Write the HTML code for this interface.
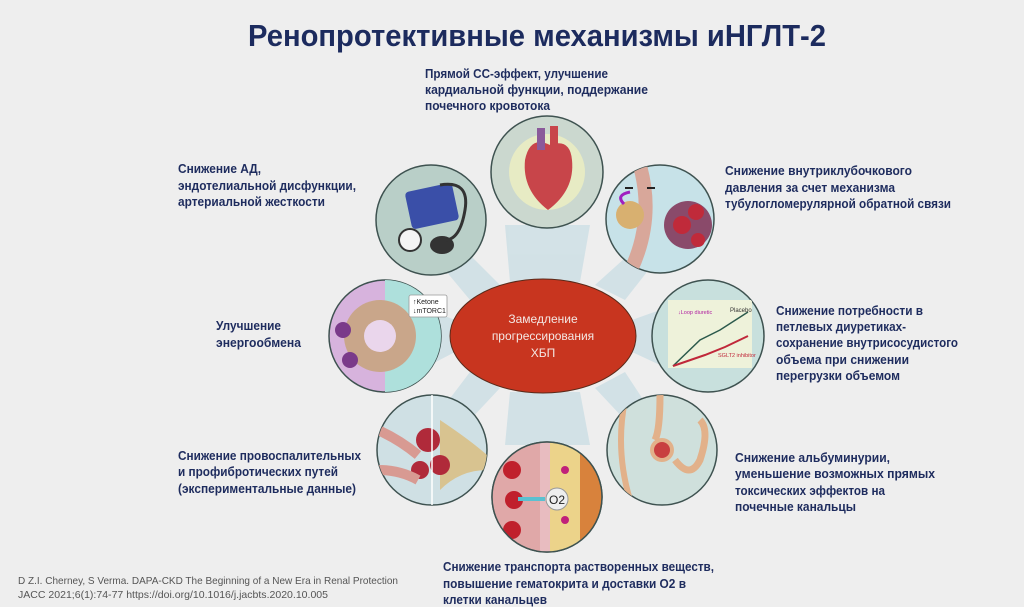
<!DOCTYPE html>
<html><head><meta charset="utf-8"><style>
html,body{margin:0;padding:0;background:#eeeeee;}
svg{display:block}
.t{font-family:"Liberation Sans",sans-serif;font-weight:bold;font-size:12.5px;fill:#1e2c5e}
</style></head><body>
<svg width="1024" height="607" viewBox="0 0 1024 607" xmlns="http://www.w3.org/2000/svg">
<defs>
<clipPath id="c1"><circle cx="547" cy="172" r="56"/></clipPath>
<clipPath id="c2"><circle cx="431" cy="220" r="55"/></clipPath>
<clipPath id="c3"><circle cx="660" cy="219" r="54"/></clipPath>
<clipPath id="c4"><circle cx="385" cy="336" r="56"/></clipPath>
<clipPath id="c5"><circle cx="708" cy="336" r="56"/></clipPath>
<clipPath id="c6"><circle cx="432" cy="450" r="55"/></clipPath>
<clipPath id="c7"><circle cx="547" cy="497" r="55"/></clipPath>
<clipPath id="c8"><circle cx="662" cy="450" r="55"/></clipPath>
</defs>
<rect width="1024" height="607" fill="#eeeeee"/>
<text x="537" y="46" text-anchor="middle" font-family="Liberation Sans, sans-serif" font-weight="bold" font-size="31" fill="#1c2b5e" textLength="578" lengthAdjust="spacingAndGlyphs">Ренопротективные механизмы  иНГЛТ-2</text>
<!-- rays -->
<g fill="#c9dde4" opacity="0.75">
<polygon points="510,282 580,282 590,225 505,225"/>
<polygon points="470,300 500,285 470,255 445,270"/>
<polygon points="595,285 625,300 650,268 625,258"/>
<polygon points="455,320 455,352 430,365 430,310"/>
<polygon points="632,320 632,352 660,365 660,310"/>
<polygon points="470,372 500,388 470,420 445,405"/>
<polygon points="595,388 625,372 650,410 625,420"/>
<polygon points="510,392 580,392 590,445 505,445"/>
</g>
<g stroke="#3e5250" stroke-width="1.5">
<circle cx="547" cy="172" r="56" fill="#cbd8cf"/>
<circle cx="431" cy="220" r="55" fill="#b9cfc8"/>
<circle cx="660" cy="219" r="54" fill="#c7e2e8"/>
<circle cx="385" cy="336" r="56" fill="#d7b3dd"/>
<circle cx="708" cy="336" r="56" fill="#c8e0dd"/>
<circle cx="432" cy="450" r="55" fill="#cfe0e4"/>
<circle cx="547" cy="497" r="55" fill="#e8c9b8"/>
<circle cx="662" cy="450" r="55" fill="#cfe0dc"/>
</g>
<g clip-path="url(#c1)">
<circle cx="547" cy="172" r="38" fill="#eef0c0" opacity="0.8"/>
<path d="M525,160 Q530,135 550,145 Q570,138 572,160 Q575,190 548,210 Q522,190 525,160Z" fill="#c8454a"/>
<rect x="537" y="128" width="8" height="22" fill="#8a5a9a"/><rect x="550" y="126" width="8" height="22" fill="#c8454a"/>
</g>
<g clip-path="url(#c2)">
<rect x="408" y="187" width="48" height="38" rx="4" fill="#3a4fa8" transform="rotate(-12 432 206)"/>
<circle cx="410" cy="240" r="11" fill="#f4f4f4" stroke="#333" stroke-width="2"/>
<ellipse cx="442" cy="245" rx="12" ry="9" fill="#333"/>
<path d="M440,185 Q470,180 465,210 Q460,240 445,240" fill="none" stroke="#333" stroke-width="3"/>
</g>
<g clip-path="url(#c3)">
<path d="M640,166 Q655,220 630,272" stroke="#d8a79a" stroke-width="14" fill="none"/>
<circle cx="688" cy="225" r="24" fill="#8a4a6a"/><circle cx="682" cy="225" r="9" fill="#c02a3a"/><circle cx="696" cy="212" r="8" fill="#c02a3a"/><circle cx="698" cy="240" r="7" fill="#c02a3a"/>
<circle cx="630" cy="215" r="14" fill="#d8b070"/>
<path d="M624,204 Q615,195 630,192" stroke="#a020c0" stroke-width="3" fill="none"/>
<path d="M625,188 h8 M655,188 h-8" stroke="#222" stroke-width="2"/>
</g>
<g clip-path="url(#c4)">
<rect x="385" y="280" width="60" height="112" fill="#aee0dc"/>
<circle cx="380" cy="336" r="36" fill="#c9a68a"/><circle cx="380" cy="336" r="16" fill="#ead6ec"/>
<circle cx="343" cy="330" r="8" fill="#7a3a8a"/><circle cx="350" cy="360" r="8" fill="#7a3a8a"/>
</g>
<rect x="409" y="295" width="38" height="22" rx="2" fill="#fff" stroke="#999" stroke-width="0.8"/>
<text x="413" y="304" font-family="Liberation Sans, sans-serif" font-size="7" fill="#222">↑Ketone</text>
<text x="413" y="313" font-family="Liberation Sans, sans-serif" font-size="7" fill="#222">↓mTORC1</text>
<g clip-path="url(#c5)">
<rect x="668" y="300" width="84" height="68" fill="#eef2da"/>
<polyline points="673,366 700,340 720,330 748,312" stroke="#2c5a4c" stroke-width="1.5" fill="none"/>
<polyline points="673,366 705,355 725,347 748,336" stroke="#c0283a" stroke-width="2" fill="none"/>
<text x="730" y="312" font-family="Liberation Sans, sans-serif" font-size="6" fill="#333">Placebo</text>
<text x="718" y="357" font-family="Liberation Sans, sans-serif" font-size="5.5" fill="#c0283a">SGLT2 inhibitor</text>
<text x="678" y="314" font-family="Liberation Sans, sans-serif" font-size="5.5" fill="#b020a0">↓Loop diuretic</text>
</g>
<g clip-path="url(#c6)">
<path d="M440,420 Q470,440 487,455 L487,470 Q460,470 440,490 Z" fill="#d8c390"/>
<circle cx="428" cy="440" r="12" fill="#b02a3a"/><circle cx="440" cy="465" r="10" fill="#b02a3a"/><circle cx="420" cy="470" r="9" fill="#b02a3a"/>
<path d="M378,430 Q400,440 418,455" stroke="#d89a92" stroke-width="10" fill="none"/>
<path d="M378,470 Q400,470 418,480" stroke="#d89a92" stroke-width="10" fill="none"/>
<line x1="432" y1="395" x2="432" y2="505" stroke="#fff" stroke-width="1.5"/>
</g>
<g clip-path="url(#c7)">
<rect x="490" y="442" width="50" height="111" fill="#e0a8a8"/>
<rect x="540" y="442" width="10" height="111" fill="#e8bcc0"/>
<rect x="550" y="442" width="30" height="111" fill="#ecd38a"/>
<rect x="580" y="442" width="25" height="111" fill="#d8823c"/>
<circle cx="512" cy="470" r="9" fill="#c0202c"/><circle cx="514" cy="500" r="9" fill="#c0202c"/><circle cx="512" cy="530" r="9" fill="#c0202c"/>
<circle cx="565" cy="470" r="4" fill="#c0207a"/><circle cx="565" cy="520" r="4" fill="#c0207a"/>
<line x1="518" y1="499" x2="545" y2="499" stroke="#5bc0d0" stroke-width="4"/>
<circle cx="557" cy="499" r="11" fill="#eeeeee" stroke="#999"/>
<text x="557" y="504" text-anchor="middle" font-family="Liberation Sans, sans-serif" font-size="12" fill="#222">O2</text>
</g>
<circle cx="547" cy="497" r="55" fill="none" stroke="#3e5250" stroke-width="1.5"/>
<g clip-path="url(#c8)">
<path d="M625,400 Q615,450 630,500" stroke="#e2b18a" stroke-width="6" fill="none"/>
<path d="M660,395 Q660,430 655,440 M675,460 Q690,480 700,460 Q710,430 700,420" stroke="#e2b18a" stroke-width="7" fill="none"/>
<circle cx="662" cy="450" r="12" fill="#e2b18a"/><circle cx="662" cy="450" r="8" fill="#c84040"/>
</g>
<ellipse cx="543" cy="336" rx="93" ry="57" fill="#c8351f" stroke="#5a2a1a" stroke-width="1"/>
<g font-family="Liberation Sans, sans-serif" font-size="12" fill="#f4e8e4" text-anchor="middle">
<text x="543" y="323">Замедление</text>
<text x="543" y="340">прогрессирования</text>
<text x="543" y="357">ХБП</text>
</g>
<g class="t" lengthAdjust="spacingAndGlyphs">
<text class="t" x="425" y="78" textLength="183" lengthAdjust="spacingAndGlyphs">Прямой СС-эффект, улучшение</text>
<text class="t" x="425" y="94" textLength="223" lengthAdjust="spacingAndGlyphs">кардиальной функции, поддержание</text>
<text class="t" x="425" y="110" textLength="125" lengthAdjust="spacingAndGlyphs">почечного кровотока</text>
<text class="t" x="178" y="173" textLength="83" lengthAdjust="spacingAndGlyphs">Снижение АД,</text>
<text class="t" x="178" y="190" textLength="178" lengthAdjust="spacingAndGlyphs">эндотелиальной дисфункции,</text>
<text class="t" x="178" y="206" textLength="147" lengthAdjust="spacingAndGlyphs">артериальной жесткости</text>
<text class="t" x="725" y="175" textLength="187" lengthAdjust="spacingAndGlyphs">Снижение внутриклубочкового</text>
<text class="t" x="725" y="192" textLength="170" lengthAdjust="spacingAndGlyphs">давления за счет механизма</text>
<text class="t" x="725" y="208" textLength="226" lengthAdjust="spacingAndGlyphs">тубулогломерулярной обратной связи</text>
<text class="t" x="216" y="330" textLength="65" lengthAdjust="spacingAndGlyphs">Улучшение</text>
<text class="t" x="216" y="347" textLength="85" lengthAdjust="spacingAndGlyphs">энергообмена</text>
<text class="t" x="776" y="315" textLength="147" lengthAdjust="spacingAndGlyphs">Снижение потребности в</text>
<text class="t" x="776" y="331" textLength="130" lengthAdjust="spacingAndGlyphs">петлевых диуретиках-</text>
<text class="t" x="776" y="347" textLength="182" lengthAdjust="spacingAndGlyphs">сохранение внутрисосудистого</text>
<text class="t" x="776" y="364" textLength="133" lengthAdjust="spacingAndGlyphs">объема при снижении</text>
<text class="t" x="776" y="380" textLength="124" lengthAdjust="spacingAndGlyphs">перегрузки объемом</text>
<text class="t" x="178" y="460" textLength="183" lengthAdjust="spacingAndGlyphs">Снижение провоспалительных</text>
<text class="t" x="178" y="476" textLength="160" lengthAdjust="spacingAndGlyphs">и профибротических путей</text>
<text class="t" x="178" y="493" textLength="178" lengthAdjust="spacingAndGlyphs">(экспериментальные данные)</text>
<text class="t" x="735" y="462" textLength="155" lengthAdjust="spacingAndGlyphs">Снижение альбуминурии,</text>
<text class="t" x="735" y="478" textLength="200" lengthAdjust="spacingAndGlyphs">уменьшение возможных прямых</text>
<text class="t" x="735" y="495" textLength="150" lengthAdjust="spacingAndGlyphs">токсических эффектов на</text>
<text class="t" x="735" y="511" textLength="121" lengthAdjust="spacingAndGlyphs">почечные канальцы</text>
<text class="t" x="443" y="571" textLength="271" lengthAdjust="spacingAndGlyphs">Снижение транспорта растворенных веществ,</text>
<text class="t" x="443" y="588" textLength="243" lengthAdjust="spacingAndGlyphs">повышение гематокрита и доставки О2 в</text>
<text class="t" x="443" y="604" textLength="104" lengthAdjust="spacingAndGlyphs">клетки канальцев</text>
</g>
<g font-family="Liberation Sans, sans-serif" font-size="10.5" fill="#555">
<text x="18" y="584" textLength="380" lengthAdjust="spacingAndGlyphs">D Z.I. Cherney, S Verma. DAPA-CKD The Beginning of a New Era in Renal Protection</text>
<text x="18" y="598" textLength="310" lengthAdjust="spacingAndGlyphs">JACC 2021;6(1):74-77 https://doi.org/10.1016/j.jacbts.2020.10.005</text>
</g>
</svg>
</body></html>
